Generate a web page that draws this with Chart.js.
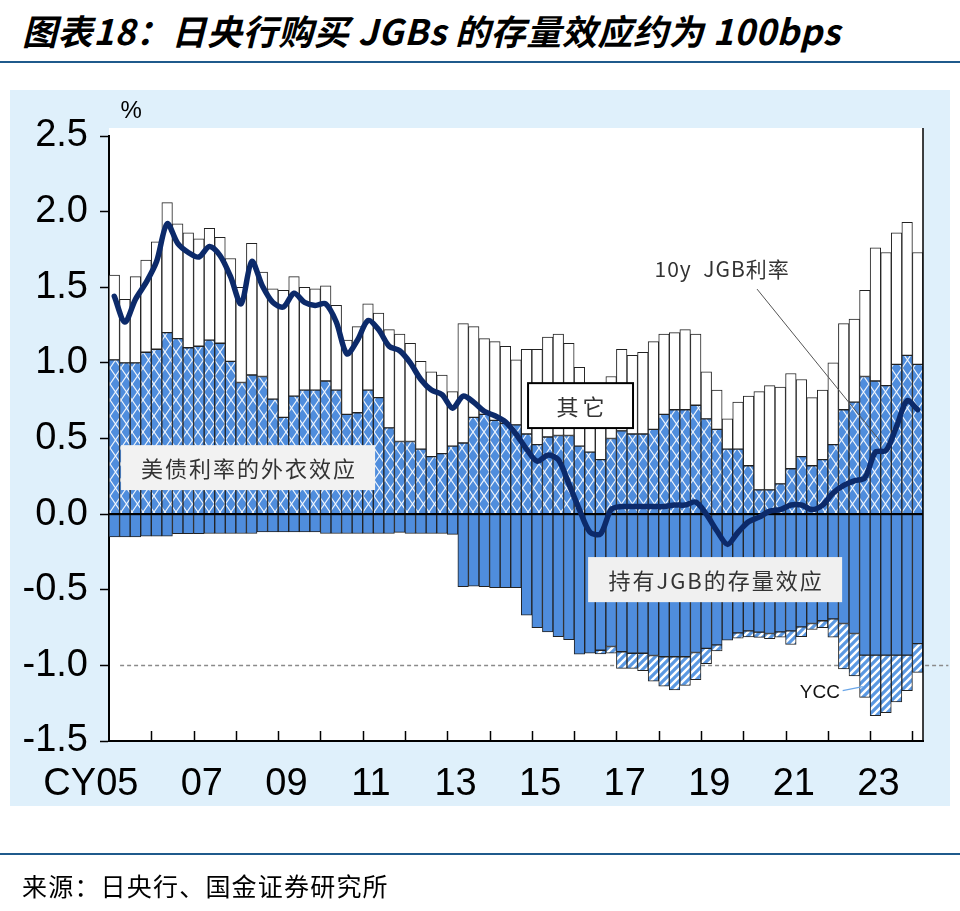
<!DOCTYPE html>
<html><head><meta charset="utf-8">
<script src="https://cdn.jsdelivr.net/npm/chart.js@4.4.1/dist/chart.umd.min.js"></script>
<style>
html,body{margin:0;padding:0;background:#fff;}
#wrap{position:relative;width:960px;height:911px;overflow:hidden;}
#title{position:absolute;left:22px;top:4px;font:italic bold 35px 'Noto Sans CJK SC',sans-serif;letter-spacing:0.6px;color:#000;white-space:nowrap;}
.rule{position:absolute;left:0;width:960px;height:2px;background:#1f5a8c;}
#panel{position:absolute;left:10px;top:90px;width:940px;height:716px;background:#dff0fb;}
#source{position:absolute;left:22px;top:867px;font:25px 'Noto Sans CJK SC',sans-serif;letter-spacing:1.2px;color:#000;white-space:nowrap;}
canvas{position:absolute;left:0;top:0;}
</style></head>
<body><div id="wrap">
<div id="title">图表18：日央行购买 JGBs 的存量效应约为 100bps</div>
<div class="rule" style="top:61px"></div>
<div id="panel"></div>
<canvas id="c" width="960" height="911"></canvas>
<div class="rule" style="top:853px"></div>
<div id="source">来源：日央行、国金证券研究所</div>
</div>
<script>
// ---- categories (quarterly, 2005Q1 - 2024Q1) ----
const quarters = [];
for (let y = 2005; y <= 2024; y++) for (let q = 1; q <= 4; q++) { if (y === 2024 && q > 1) break; quarters.push(y + 'Q' + q); }
const yearLabels = ['CY05','07','09','11','13','15','17','19','21','23'];
const yearLabelIdx = [0, 8, 16, 24, 32, 40, 48, 56, 64, 72];
const yTickValues = [2.5, 2.0, 1.5, 1.0, 0.5, 0.0, -0.5, -1.0, -1.5];

// ---- series ----
const usSpill = [1.02,1.00,1.00,1.07,1.09,1.20,1.16,1.10,1.11,1.15,1.13,1.01,
 0.87,0.92,0.91,0.76,0.64,0.78,0.82,0.82,0.88,0.82,0.66,0.67,
 0.82,0.77,0.57,0.48,0.48,0.43,0.38,0.40,0.45,0.47,0.64,0.66,
 0.62,0.60,0.59,0.53,0.46,0.51,0.52,0.52,0.45,0.41,0.36,0.50,
 0.55,0.53,0.53,0.56,0.66,0.69,0.69,0.72,0.63,0.56,0.43,0.43,
 0.32,0.16,0.16,0.20,0.30,0.38,0.32,0.36,0.46,0.69,0.74,0.91,
 0.88,0.85,0.99,1.05,0.99];
const other = [0.56,0.42,0.57,0.61,0.71,0.86,0.76,0.76,0.71,0.74,0.70,0.68,
 0.63,0.87,0.69,0.73,0.84,0.79,0.68,0.67,0.63,0.56,0.49,0.57,
 0.57,0.56,0.65,0.71,0.65,0.58,0.56,0.52,0.36,0.79,0.60,0.50,
 0.52,0.51,0.43,0.56,0.63,0.66,0.67,0.61,0.52,0.44,0.44,0.41,
 0.54,0.52,0.54,0.58,0.53,0.51,0.53,0.47,0.31,0.26,0.20,0.31,
 0.46,0.65,0.69,0.64,0.63,0.51,0.45,0.46,0.54,0.57,0.55,0.57,
 0.88,0.88,0.87,0.88,0.74];
const jgbStock = [-0.15,-0.15,-0.15,-0.145,-0.145,-0.145,-0.13,-0.13,-0.13,-0.128,-0.128,-0.128,
 -0.128,-0.128,-0.117,-0.117,-0.117,-0.117,-0.117,-0.117,-0.128,-0.128,-0.128,-0.128,
 -0.128,-0.128,-0.128,-0.121,-0.128,-0.128,-0.128,-0.128,-0.134,-0.48,-0.476,-0.48,
 -0.486,-0.486,-0.486,-0.668,-0.75,-0.778,-0.811,-0.83,-0.926,-0.92,-0.90,-0.875,
 -0.91,-0.92,-0.92,-0.935,-0.943,-0.943,-0.943,-0.915,-0.888,-0.864,-0.833,-0.785,
 -0.772,-0.78,-0.789,-0.778,-0.772,-0.745,-0.723,-0.705,-0.693,-0.723,-0.789,-0.932,
 -0.932,-0.932,-0.932,-0.932,-0.856];
const ycc = [null,null,null,null,null,null,null,null,null,null,null,null,
 null,null,null,null,null,null,null,null,null,null,null,null,
 null,null,null,null,null,null,null,null,null,null,null,null,
 null,null,null,null,null,null,null,null,null,null,-0.025,-0.045,
 -0.11,-0.10,-0.115,-0.17,-0.195,-0.22,-0.19,-0.18,-0.10,-0.04,null,-0.035,
 -0.04,-0.035,-0.035,-0.035,-0.09,-0.066,-0.04,-0.045,-0.12,-0.30,-0.28,-0.28,
 -0.40,-0.38,-0.31,-0.235,-0.19];
const jgb10y = [1.44,1.27,1.42,1.53,1.67,1.92,1.79,1.73,1.70,1.77,1.71,1.57,
 1.39,1.67,1.51,1.40,1.37,1.46,1.40,1.38,1.39,1.27,1.06,1.15,
 1.28,1.22,1.11,1.08,1.00,0.89,0.82,0.79,0.70,0.78,0.74,0.68,
 0.65,0.61,0.53,0.43,0.35,0.39,0.36,0.20,0.03,-0.12,-0.13,0.03,
 0.05,0.05,0.05,0.05,0.05,0.06,0.06,0.08,0.00,-0.11,-0.20,-0.12,
 -0.05,-0.02,0.02,0.03,0.06,0.06,0.03,0.06,0.14,0.19,0.22,0.24,
 0.41,0.42,0.58,0.75,0.69];

// ---- styles ----
const BLUE = '#4f8ddd';
const NAVY = '#0c2a6a';
const canvas = document.getElementById('c');
const mainCtx = canvas.getContext('2d');

function crossPattern(){
  const w = 11, h = 16;
  const c = document.createElement('canvas'); c.width = w; c.height = h;
  const g = c.getContext('2d');
  g.fillStyle = BLUE; g.fillRect(0, 0, w, h);
  g.strokeStyle = 'rgba(255,255,255,0.9)'; g.lineWidth = 1.2;
  g.beginPath(); g.moveTo(0, 0); g.lineTo(w, h); g.moveTo(w, 0); g.lineTo(0, h); g.stroke();
  return mainCtx.createPattern(c, 'repeat');
}
function stripePattern(){
  const s = 8;
  const c = document.createElement('canvas'); c.width = s; c.height = s;
  const g = c.getContext('2d');
  g.fillStyle = '#fff'; g.fillRect(0, 0, s, s);
  g.strokeStyle = '#5a98e2'; g.lineWidth = 3.2;
  g.beginPath();
  g.moveTo(-s, s); g.lineTo(s, -s);
  g.moveTo(0, s); g.lineTo(s, 0);
  g.moveTo(0, 2 * s); g.lineTo(2 * s, 0);
  g.stroke();
  return mainCtx.createPattern(c, 'repeat');
}

// annotation anchors in data units (fractional category index, value)
const notes = {
  usBox: [0.64, 0.456, 24.67, 0.159],
  otherBox: [39.14, 0.866, 49.07, 0.569],
  jgbBox: [44.82, -0.284, 68.85, -0.582],
  jgbText: [57.5, 1.62],
  jgbLeader: [60.8, 1.488, 72.6, 0.47],
  yccText: [66.75, -1.183],
  yccLeader: [68.9, -1.167, 70.8, -1.14],
  dashFrom: 0.55, dashTo: 78.9,
  pct: [1.6, 2.66]
};

const decor = {
  id: 'decor',
  beforeDraw(chart){
    const {ctx, chartArea: a} = chart;
    ctx.save(); ctx.fillStyle = '#fff';
    ctx.fillRect(a.left, a.top - 8, a.right - a.left, a.bottom - a.top + 8);
    ctx.restore();
  },
  beforeDatasetsDraw(chart){
    const {ctx, scales: {x, y}} = chart;
    ctx.save();
    ctx.strokeStyle = '#8a8a8a'; ctx.lineWidth = 1.5; ctx.setLineDash([4, 3]);
    ctx.beginPath();
    ctx.moveTo(x.getPixelForValue(notes.dashFrom), y.getPixelForValue(-1));
    ctx.lineTo(x.getPixelForValue(notes.dashTo), y.getPixelForValue(-1));
    ctx.stroke();
    ctx.restore();
  },
  beforeDatasetDraw(chart, args){
    if (args.index !== 4) return;
    const {ctx, chartArea: a, scales: {y}} = chart;
    ctx.save(); ctx.strokeStyle = '#000'; ctx.lineWidth = 2;
    const y0 = Math.round(y.getPixelForValue(0));
    ctx.beginPath(); ctx.moveTo(a.left, y0); ctx.lineTo(a.right, y0); ctx.stroke();
    ctx.restore();
  },
  afterDraw(chart){
    const {ctx, chartArea: a, scales: {x, y}} = chart;
    const X = v => x.getPixelForValue(v), Y = v => y.getPixelForValue(v);
    ctx.save();
    // right frame
    ctx.strokeStyle = '#000'; ctx.lineWidth = 1.5;
    ctx.beginPath(); ctx.moveTo(a.right, a.top - 8); ctx.lineTo(a.right, a.bottom); ctx.stroke();
    // inward year ticks
    ctx.lineWidth = 1.5;
    for (let i = 4; i <= quarters.length; i += 4) {
      const px = Math.round(X(i - 0.5)) + 0.5;
      ctx.beginPath(); ctx.moveTo(px, a.bottom); ctx.lineTo(px, a.bottom - 10); ctx.stroke();
    }
    // x labels
    ctx.fillStyle = '#000'; ctx.font = '38px "Liberation Sans", Arial, sans-serif';
    ctx.textBaseline = 'middle';
    const ly = a.bottom + 44;
    yearLabels.forEach((t, k) => {
      const cx = X(yearLabelIdx[k]) + 3;
      if (k === 0) { ctx.textAlign = 'right'; ctx.fillText(t, cx + ctx.measureText('05').width / 2, ly); }
      else { ctx.textAlign = 'center'; ctx.fillText(t, cx, ly); }
    });
    // % unit
    ctx.font = '24px "Liberation Sans", Arial, sans-serif'; ctx.textAlign = 'center';
    ctx.fillText('%', X(notes.pct[0]), Y(notes.pct[1]));
    // boxes
    function box(b, fill, stroke){
      const x1 = X(b[0]), y1 = Y(b[1]), x2 = X(b[2]), y2 = Y(b[3]);
      ctx.fillStyle = fill; ctx.fillRect(x1, y1, x2 - x1, y2 - y1);
      if (stroke) { ctx.strokeStyle = stroke; ctx.lineWidth = 2; ctx.strokeRect(x1, y1, x2 - x1, y2 - y1); }
      return [(x1 + x2) / 2, (y1 + y2) / 2];
    }
    ctx.font = '22px "Noto Sans CJK SC", sans-serif'; ctx.textAlign = 'center'; ctx.textBaseline = 'middle';
    ctx.letterSpacing = '2px';
    let c = box(notes.usBox, '#f2f2f2');
    ctx.fillStyle = '#333'; ctx.fillText('美债利率的外衣效应', c[0] + 1, c[1] + 1);
    c = box(notes.otherBox, '#fff', '#000');
    ctx.letterSpacing = '4px';
    ctx.fillStyle = '#333'; ctx.fillText('其它', c[0] + 2, c[1] + 1);
    ctx.letterSpacing = '2px';
    c = box(notes.jgbBox, '#f0f0f0');
    ctx.fillStyle = '#333'; ctx.fillText('持有JGB的存量效应', c[0] + 1, c[1] + 1);
    // 10y JGB label + leader
    ctx.font = '21px "Noto Sans CJK SC", sans-serif';
    ctx.letterSpacing = '1px';
    ctx.fillStyle = '#333'; ctx.fillText('10y  JGB利率', X(notes.jgbText[0]), Y(notes.jgbText[1]));
    ctx.letterSpacing = '0px';
    ctx.strokeStyle = '#555'; ctx.lineWidth = 1;
    ctx.beginPath();
    ctx.moveTo(X(notes.jgbLeader[0]), Y(notes.jgbLeader[1]));
    ctx.lineTo(X(notes.jgbLeader[2]), Y(notes.jgbLeader[3])); ctx.stroke();
    // YCC label + leader
    ctx.font = '19px "Liberation Sans", Arial, sans-serif';
    ctx.fillStyle = '#111'; ctx.fillText('YCC', X(notes.yccText[0]), Y(notes.yccText[1]));
    ctx.strokeStyle = '#6aa6e8'; ctx.lineWidth = 1.2;
    ctx.beginPath();
    ctx.moveTo(X(notes.yccLeader[0]), Y(notes.yccLeader[1]));
    ctx.lineTo(X(notes.yccLeader[2]), Y(notes.yccLeader[3])); ctx.stroke();
    ctx.restore();
  }
};

const barCommon = {
  type: 'bar', stack: 'bars', order: 1,
  borderColor: '#222', borderWidth: 1, borderSkipped: false,
  barPercentage: 1, categoryPercentage: 1
};

new Chart(canvas, {
  data: {
    labels: quarters,
    datasets: [
      Object.assign({label: '美债利率的外衣效应', data: usSpill, backgroundColor: crossPattern()}, barCommon),
      Object.assign({label: '其它', data: other, backgroundColor: '#fff', borderWidth: 1.3}, barCommon),
      Object.assign({label: '持有JGB的存量效应', data: jgbStock, backgroundColor: BLUE}, barCommon),
      Object.assign({label: 'YCC', data: ycc, backgroundColor: stripePattern()}, barCommon),
      {type: 'line', label: '10y JGB利率', data: jgb10y, stack: 'line', order: 0,
       borderColor: NAVY, borderWidth: 5.5, pointRadius: 0, tension: 0.3,
       borderCapStyle: 'round', borderJoinStyle: 'round', fill: false}
    ]
  },
  options: {
    responsive: false, animation: false, devicePixelRatio: 1,
    layout: {padding: {left: 10, right: 37, top: 136, bottom: 170}},
    plugins: {legend: {display: false}, tooltip: {enabled: false}},
    scales: {
      x: {
        type: 'category', stacked: true, offset: true,
        grid: {display: true, color: 'transparent', drawTicks: false},
        border: {display: true, color: '#000', width: 2},
        ticks: {display: false},
        afterFit(s){ s.height = 0; }
      },
      y: {
        stacked: true, min: -1.5, max: 2.5,
        afterBuildTicks(s){ s.ticks = yTickValues.map(v => ({value: v})); },
        ticks: {
          color: '#000', padding: 12,
          font: {family: '"Liberation Sans", Arial, sans-serif', size: 38},
          callback: v => Number(v).toFixed(1)
        },
        grid: {color: 'transparent', drawOnChartArea: false, tickColor: '#000', tickLength: 9, tickWidth: 1.5},
        border: {display: true, color: '#000', width: 2},
        afterFit(s){ s.width = 99; }
      }
    }
  },
  plugins: [decor]
});
</script>
</body></html>
